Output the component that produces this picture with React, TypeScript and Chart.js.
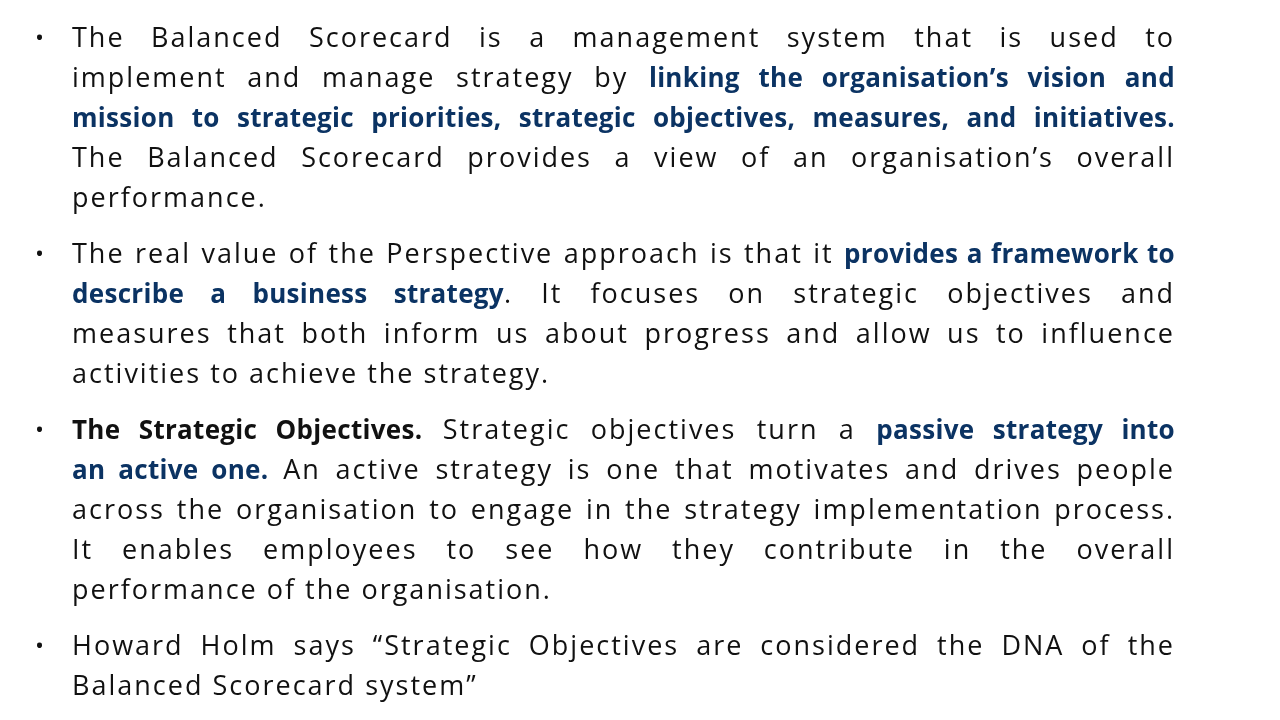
import React, { useEffect, useRef } from "react";
import { Chart, registerables } from "chart.js";
Chart.register(...registerables);

type Seg = [string, "n" | "b" | "k"];
// each paragraph: list of lines, each line list of segments
const paragraphs: Seg[][][] = [
  [
    [["The Balanced Scorecard is a management system that is used to", "n"]],
    [["implement and manage strategy by ", "n"], ["linking the organisation’s vision and", "b"]],
    [["mission to strategic priorities, strategic objectives, measures, and initiatives.", "b"]],
    [["The Balanced Scorecard provides a view of an organisation’s overall", "n"]],
    [["performance.", "n"]],
  ],
  [
    [["The real value of the Perspective approach is that it ", "n"], ["provides a framework to", "b"]],
    [["describe a business strategy", "b"], [". It focuses on strategic objectives and", "n"]],
    [["measures that both inform us about progress and allow us to influence", "n"]],
    [["activities to achieve the strategy.", "n"]],
  ],
  [
    [["The Strategic Objectives.", "k"], [" Strategic objectives turn a ", "n"], ["passive strategy into", "b"]],
    [["an active one.", "b"], [" An active strategy is one that motivates and drives people", "n"]],
    [["across the organisation to engage in the strategy implementation process.", "n"]],
    [["It enables employees to see how they contribute in the overall", "n"]],
    [["performance of the organisation.", "n"]],
  ],
  [
    [["Howard Holm says “Strategic Objectives are considered the DNA of the", "n"]],
    [["Balanced Scorecard system”", "n"]],
  ],
];
const paragraphTops = [17, 233, 409, 625];

export default function App() {
  const ref = useRef<HTMLCanvasElement>(null);
  useEffect(() => {
    const c = new Chart(ref.current!, {
      type: "bar",
      data: { labels: [], datasets: [] },
      options: {
        animation: false,
        responsive: false,
        plugins: { legend: { display: false }, tooltip: { enabled: false } },
        scales: { x: { display: false }, y: { display: false } },
      },
    });
    return () => c.destroy();
  }, []);
  return (
    <div style={{ position: "fixed", left: 0, top: 0, width: 1280, height: 720, background: "#fff", fontFamily: "'Open Sans', sans-serif", color: "#111" }}>
      <canvas ref={ref} width={1280} height={720} style={{ position: "absolute", left: 0, top: 0 }} />
      {paragraphs.map((p, pi) => (
        <React.Fragment key={pi}>
          <div style={{ position: "absolute", left: 35, top: paragraphTops[pi], lineHeight: "40px", fontSize: 24 }}>•</div>
          {p.map((line, li) => (
            <div
              key={li}
              style={{
                position: "absolute",
                left: 72,
                width: 1103,
                top: paragraphTops[pi] + li * 40,
                height: 40,
                lineHeight: "40px",
                fontSize: 27,
                whiteSpace: li === p.length - 1 ? "nowrap" : "normal",
                textAlign: "justify",
                textAlignLast: li === p.length - 1 ? "left" : "justify",
                overflow: "visible",
              }}
            >
              {line.map(([t, k], si) => (
                <span
                  key={si}
                  style={{
                    fontWeight: k === "n" ? 400 : 700,
                    fontSize: k === "n" ? 27 : 26,
                    letterSpacing: k === "n" ? "2px" : "0.3px",
                    color: k === "b" ? "#0b3363" : "#111",
                  }}
                >
                  {t}
                </span>
              ))}
            </div>
          ))}
        </React.Fragment>
      ))}
    </div>
  );
}
